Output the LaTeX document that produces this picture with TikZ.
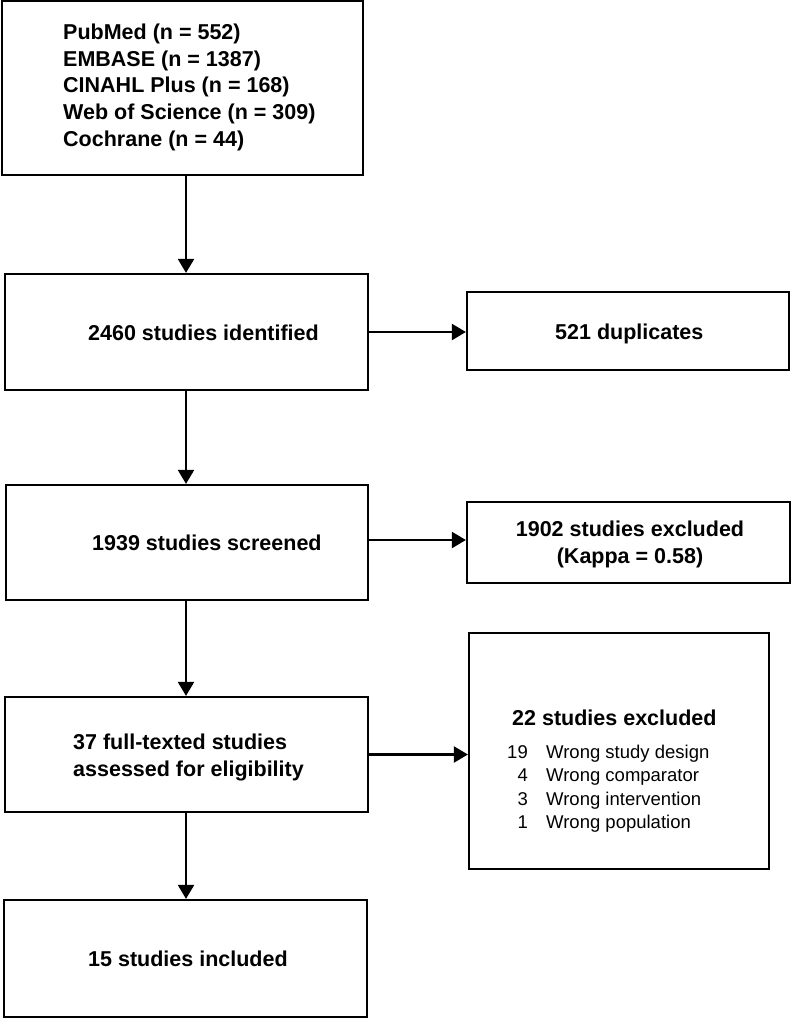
\documentclass[tikz,border=0pt]{standalone}
\usepackage{fontspec}
\setmainfont{Liberation Sans}
\usetikzlibrary{arrows.meta}
\begin{document}
\begin{tikzpicture}[x=1pt,y=-1pt,
  box/.style={draw=black,line width=2.2pt,fill=white,minimum width=#1,inner sep=0pt},
  bt/.style={font=\fontsize{21.5}{27}\selectfont\bfseries,inner sep=0pt},
  rt/.style={font=\fontsize{18.5}{23.5}\selectfont,inner sep=0pt},
  arr/.style={line width=2.2pt,-{Triangle[length=14pt,width=16pt]}}]
\useasboundingbox (0,0) rectangle (794,1020);
% boxes
\node[box=361pt,minimum height=174pt] (b1) at (182.5,88) {};
\node[box=363pt,minimum height=116pt] (b2) at (186.5,332) {};
\node[box=322pt,minimum height=78pt] (dup) at (628,331) {};
\node[box=362pt,minimum height=115pt] (b3) at (187,542.5) {};
\node[box=323pt,minimum height=81pt] (exc) at (628.5,542.5) {};
\node[box=363pt,minimum height=115pt] (b4) at (186.5,754.5) {};
\node[box=300pt,minimum height=236pt] (ex22) at (619,751) {};
\node[box=363pt,minimum height=117pt] (b5) at (185.5,958.5) {};
% texts
\node[bt,anchor=base west] (t1a) at (63,39.3) {PubMed (n = 552)};
\node[bt,anchor=base west] (t1b) at (63,66.1) {EMBASE (n = 1387)};
\node[bt,anchor=base west] (t1c) at (63,92.9) {CINAHL Plus (n = 168)};
\node[bt,anchor=base west] (t1d) at (63,119.7) {Web of Science (n = 309)};
\node[bt,anchor=base west] (t1e) at (63,146.5) {Cochrane (n = 44)};
\node[bt,anchor=base west] (t2) at (88,340.7) {2460 studies identified};
\node[bt,anchor=base west] (tdup) at (555,339.3) {521 duplicates};
\node[bt,anchor=base west] (t3) at (92,550) {1939 studies screened};
\node[bt,anchor=base] (texa) at (630,536.7) {1902 studies excluded};
\node[bt,anchor=base] (texb) at (630,563) {(Kappa = 0.58)};
\node[bt,anchor=base west] (t4a) at (73,749) {37 full-texted studies};
\node[bt,anchor=base west] (t4b) at (73,776) {assessed for eligibility};
\node[bt,anchor=base west] (t5) at (88,966) {15 studies included};
\node[bt,anchor=base west] (t22) at (512,725) {22 studies excluded};
\foreach \n/\w/\y [count=\i] in {19/Wrong study design/758, 4/Wrong comparator/781.5, 3/Wrong intervention/805, 1/Wrong population/828}{
  \node[rt,anchor=base east] (num\i) at (528,\y) {\n};
  \node[rt,anchor=base west] (rs\i) at (546,\y) {\w};
}
% connectors
\coordinate (vx) at (186,0);
\draw[arr] (b1.south -| vx) -- (b2.north -| vx);
\draw[arr] (b2.south -| vx) -- (b3.north -| vx);
\draw[arr] (b3.south -| vx) -- (b4.north -| vx);
\draw[arr] (b4.south -| vx) -- (b5.north -| vx);
\draw[arr] (b2.east) -- (b2.east -| dup.west);
\draw[arr] ([yshift=2.5pt]b3.east) -- ([yshift=2.5pt]b3.east -| exc.west);
\draw[arr] (b4.east) -- (b4.east -| ex22.west);
\end{tikzpicture}
\end{document}
